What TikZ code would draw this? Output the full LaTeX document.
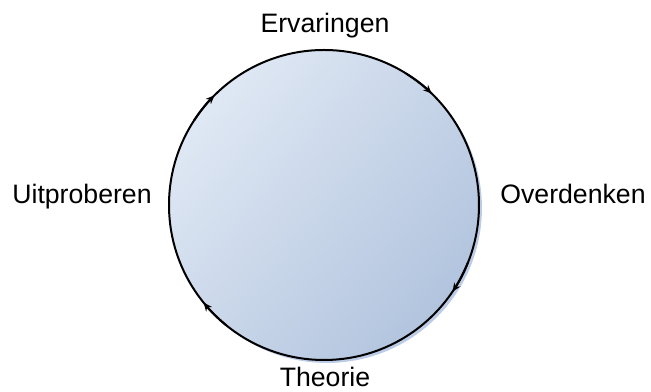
\documentclass[tikz,border=0pt]{standalone}
\usepackage{fontspec}
\setmainfont{Liberation Sans}
\usetikzlibrary{arrows.meta,shadows}
\definecolor{cyclelight}{HTML}{DFE8F4}
\definecolor{cycledark}{HTML}{B2C4DE}
\definecolor{cycleshade}{HTML}{BCCBE6}

\begin{document}
\begin{tikzpicture}[x=0.75pt, y=0.75pt, >=Stealth,
    stage/.style={anchor=base, inner sep=1pt, font=\fontsize{20}{24}\selectfont},
    flow/.style={line width=1.5pt, -{Stealth[length=6.5pt, width=5.5pt]}}]
  \useasboundingbox (0,0) rectangle (651,392);
  % the cycle
  \node[circle, minimum size=232.5pt, inner sep=0pt, outer sep=0pt,
        draw, line width=1.5pt, top color=cyclelight, bottom color=cycledark,
        shading angle=50,
        drop shadow={shadow xshift=2.2pt, shadow yshift=-2.2pt, fill=cycleshade, opacity=1}]
        (cycle) at (324,187) {};
  % stages
  \node[stage] (erv) at (325,359) {Ervaringen};
  \node[stage] (ove) at (573,188) {Overdenken};
  \node[stage] (the) at (325,5) {Theorie};
  \node[stage] (uit) at (82,188) {Uitproberen};
  % direction marks (clockwise)
  \draw[flow] (cycle.147) arc[start angle=147, end angle=135, radius=155];
  \draw[flow] (cycle.58) arc[start angle=58, end angle=46, radius=155];
  \draw[flow] (cycle.-22) arc[start angle=-22, end angle=-34, radius=155];
  \draw[flow] (cycle.-129) arc[start angle=-129, end angle=-141, radius=155];
\end{tikzpicture}
\end{document}
